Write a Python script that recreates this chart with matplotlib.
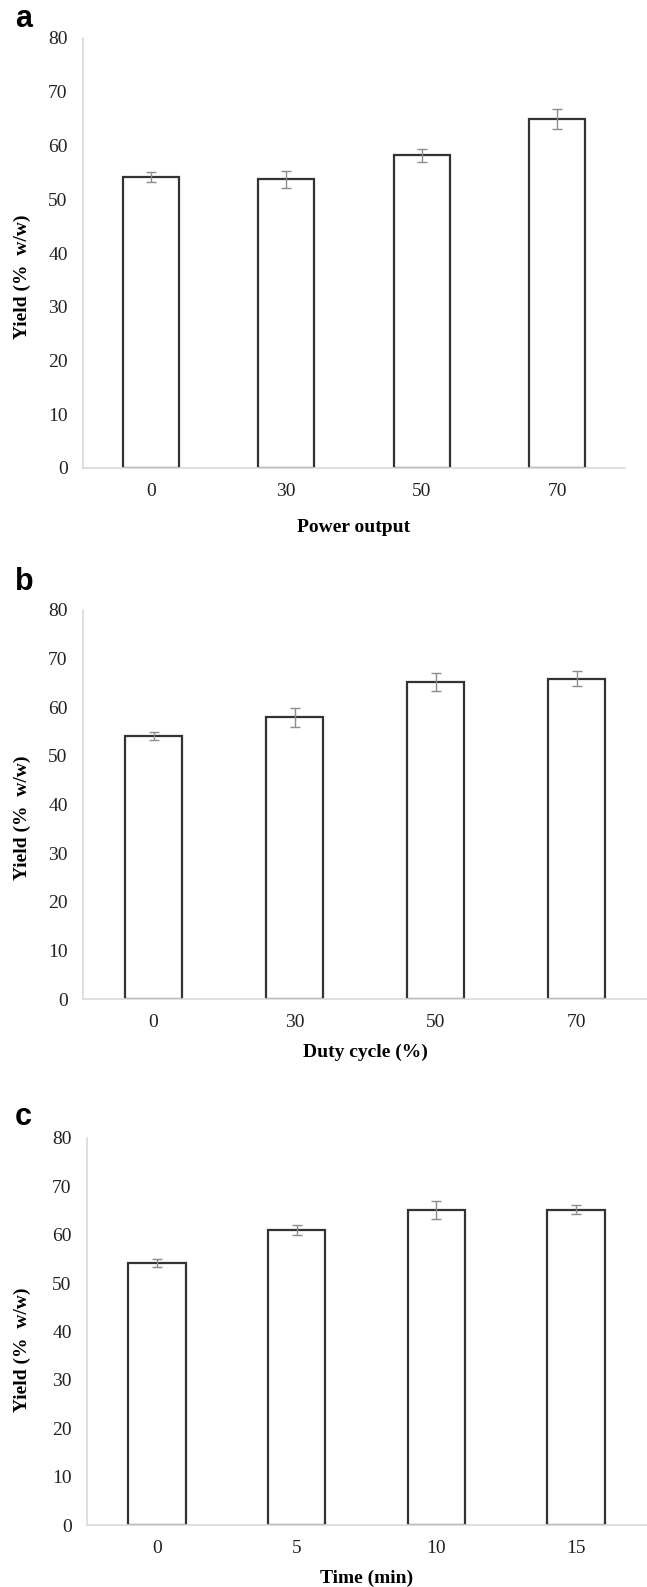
import matplotlib
matplotlib.use("Agg")
import matplotlib.pyplot as plt

# panel a: power output
power_labels = ["0", "30", "50", "70"]
power_yield = [54.1, 53.7, 58.2, 65.0]
power_err = [0.9, 1.6, 1.2, 1.85]

# panel b: duty cycle
duty_labels = ["0", "30", "50", "70"]
duty_yield = [54.1, 57.9, 65.2, 65.9]
duty_err = [0.8, 2.0, 1.8, 1.5]

# panel c: time
time_labels = ["0", "5", "10", "15"]
time_yield = [54.1, 61.0, 65.1, 65.2]
time_err = [0.8, 1.0, 1.8, 1.0]

W, H = 647, 1587
fig = plt.figure(figsize=(W / 100, H / 100), dpi=100)

serif = ["Liberation Serif", "DejaVu Serif"]
sans = ["Liberation Sans", "DejaVu Sans"]


def px_axes(left, right, top, bottom):
    return fig.add_axes([left / W, 1 - bottom / H, (right - left) / W, (bottom - top) / H])


def draw_panel(ax, labels, vals, errs, xlabel, xlabel_y, letter, letter_y, ylabel_y):
    x = range(len(labels))
    ax.bar(x, vals, width=0.41, color="white", edgecolor="#333333", linewidth=1.6, zorder=2)
    ax.errorbar(x, vals, yerr=errs, fmt="none", ecolor="#8c8c8c", elinewidth=1.0,
                capsize=3.5, capthick=1.0, zorder=3)
    ax.set_xlim(-0.5, len(labels) - 0.5)
    ax.set_ylim(0, 80)
    ax.set_yticks(range(0, 81, 10))
    ax.set_xticks(list(x))
    ax.set_xticklabels(labels)
    for s in ["top", "right"]:
        ax.spines[s].set_visible(False)
    ax.spines["left"].set_color("#d9d9d9")
    ax.spines["bottom"].set_color("#d9d9d9")
    ax.spines["left"].set_linewidth(1.2)
    ax.spines["bottom"].set_linewidth(1.2)
    ax.tick_params(axis="both", length=0, labelsize=14, colors="#222222")
    ax.tick_params(axis="y", pad=11)
    ax.tick_params(axis="x", pad=11)
    for t in ax.get_xticklabels() + ax.get_yticklabels():
        t.set_family(serif)
    pos = ax.get_position()
    fig.text(0.5 * (pos.x0 + pos.x1), 1 - xlabel_y / H, xlabel,
             ha="center", va="center", fontsize=14, fontweight="bold", family=serif)
    fig.text(22 / W, 1 - ylabel_y / H, "Yield (%  w/w)", rotation=90, ha="center", va="center",
             fontsize=14, fontweight="bold", family=serif)
    fig.text(15 / W, 1 - letter_y / H, letter, ha="left", va="center",
             fontsize=22, fontweight="bold", family=sans)


ax_a = px_axes(83, 625, 38, 468)
draw_panel(ax_a, power_labels, power_yield, power_err, "Power output", 527, "a", 19, 277)

ax_b = px_axes(83, 647, 610, 999)
draw_panel(ax_b, duty_labels, duty_yield, duty_err, "Duty cycle (%)", 1052, "b", 582, 818)

ax_c = px_axes(87, 646, 1138, 1525)
draw_panel(ax_c, time_labels, time_yield, time_err, "Time (min)", 1578, "c", 1117, 1350)

fig.savefig("out.png", dpi=100, facecolor="white")
